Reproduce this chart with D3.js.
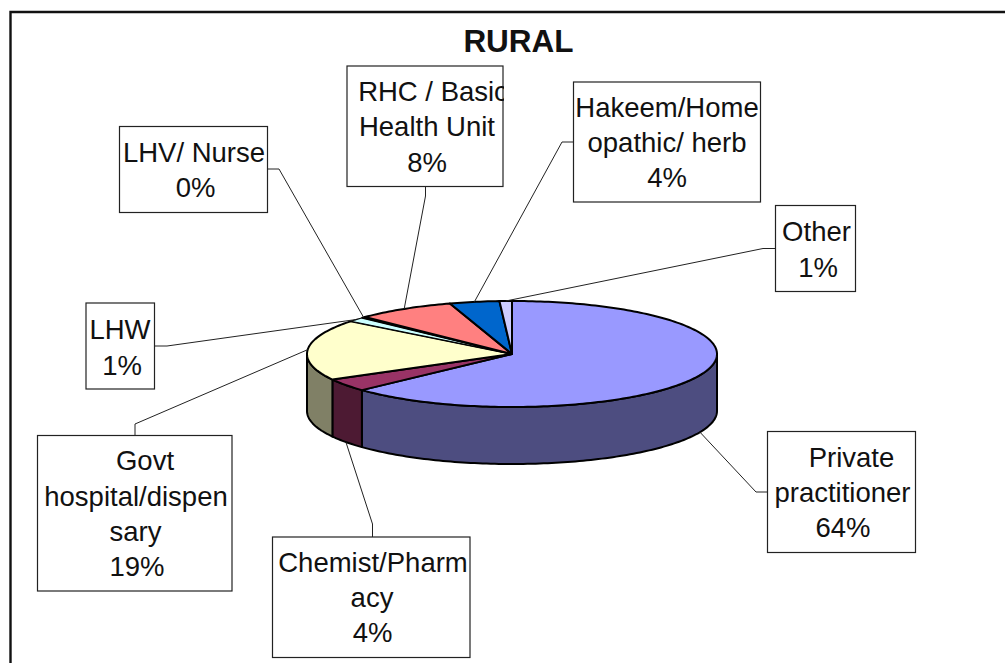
<!DOCTYPE html>
<html>
<head>
<meta charset="utf-8">
<style>
html,body{margin:0;padding:0;background:#fff;overflow:hidden}
svg{display:block}
text{font-family:"Liberation Sans",Arial,sans-serif;fill:#111}
</style>
<script src="https://cdn.jsdelivr.net/npm/d3@7/dist/d3.min.js"></script>
</head>
<body>
<svg id="c" width="1005" height="663"></svg>
<script>
// ---- data ----
const chartTitle = "RURAL";
const categories = ["Private practitioner","Chemist/Pharmacy","Govt hospital/dispensary","LHW","LHV/ Nurse","RHC / Basic Health Unit","Hakeem/Homeopathic/ herb","Other"];
const values = [64.4, 4, 19, 1.4, 0.3, 8, 4, 1];
const labelLines = [
  ["Private","practitioner"],
  ["Chemist/Pharm","acy"],
  ["Govt","hospital/dispen","sary"],
  ["LHW"],
  ["LHV/ Nurse"],
  ["RHC / Basic","Health Unit"],
  ["Hakeem/Home","opathic/ herb"],
  ["Other"]
];
// ---- styles ----
const topColors  = ["#9999FF","#993366","#FFFFCC","#CCFFFF","#660066","#FF8080","#0066CC","#CCCCFF"];
const sideColors = ["#4D4D80","#4D1A33","#808066","#668080","#330033","#804040","#003366","#666680"];
// ---- layout of the callouts ----
const boxes = [
  {x:767.5,y:431.5,w:148,h:121, base:[466.5,501.5,536.5], cx:[851.5,842.5,843],  elbow:[[768,492],[756,492]]},
  {x:272.5,y:537, w:197.5,h:120.5, base:[571.5,606.5,642], cx:[373,372,372.5],   elbow:[[372.5,537],[372.5,524]]},
  {x:37.5,y:435.5,w:194.5,h:155.5, base:[470,505.5,541,575.5], cx:[145,136,135.5,137], elbow:[[135,436],[135,424]]},
  {x:86,y:303,w:68.5,h:86, base:[339,374.5], cx:[120,122],                        elbow:[[155,346],[167,346]]},
  {x:119.5,y:126.5,w:148,h:86, base:[161.5,196.5], cx:[194,195.5],                elbow:[[267,169],[279,169]]},
  {x:347,y:66,w:156,h:120.5, base:[100.5,136,171.5], cx:[433,427,427],            elbow:[[425.5,186],[425.5,196]]},
  {x:573.5,y:82,w:187,h:120, base:[116.5,152,187], cx:[667,667,667],              elbow:[[573,142],[562,142]]},
  {x:775.5,y:205.5,w:80,h:86, base:[241,276.5], cx:[816.5,818],                   elbow:[[775,248.5],[763,248.5]]}
];

const svg = d3.select("#c");
const cx = 512, cy = 354, rx = 205, ry = 53, depth = 57;
const xS = d3.scaleLinear().domain([-1,1]).range([cx-rx,cx+rx]);
const yS = d3.scaleLinear().domain([-1,1]).range([cy-ry,cy+ry]);
const ptx = a => xS(Math.sin(a));
const pty = a => yS(-Math.cos(a));

const arcs = d3.pie().sort(null).value(d=>d)(values);
const PI = Math.PI;

function arcPts(a0,a1,dy){
  const n = Math.max(2,Math.ceil((a1-a0)/0.02));
  return d3.range(n+1).map(i=>{
    const a = a0+(a1-a0)*i/n;
    return [ptx(a),pty(a)+dy];
  });
}
const line = d3.line();

// frame: only top and left edges fall inside the picture
svg.append("path").attr("d",line([[10.5,663],[10.5,12],[1005,12]]))
  .attr("fill","none").attr("stroke","#111").attr("stroke-width",2.4);

// title
svg.append("text").attr("x",518.5).attr("y",52).attr("text-anchor","middle")
  .attr("font-size",31.5).attr("font-weight","bold").text(chartTitle);

// side walls of the front half
const wallG = svg.append("g");
arcs.forEach((d,i)=>{
  const a0 = Math.max(d.startAngle,PI/2), a1 = Math.min(d.endAngle,3*PI/2);
  if(a1<=a0) return;
  const pts = arcPts(a0,a1,0).concat(arcPts(a0,a1,depth).reverse());
  wallG.append("path").attr("d",line(pts)+"Z")
    .attr("fill",sideColors[i]).attr("stroke","#000").attr("stroke-width",2).attr("stroke-linejoin","round");
});

// top faces
const topG = svg.append("g");
arcs.forEach((d,i)=>{
  const pts = [[cx,cy]].concat(arcPts(d.startAngle,d.endAngle,0));
  topG.append("path").attr("d",line(pts)+"Z")
    .attr("fill",topColors[i]).attr("stroke","#000").attr("stroke-width",i===3?1.2:2).attr("stroke-linejoin","round");
});

// callouts
const defs = svg.append("defs");
const pctText = v => Math.round(v)+"%";
const calloutG = svg.append("g");
arcs.forEach((d,i)=>{
  const b = boxes[i];
  const mid = (d.startAngle+d.endAngle)/2;
  const front = mid>PI/2 && mid<3*PI/2;
  const anchor = [ptx(mid), pty(mid)+(front?depth:0)];
  calloutG.append("path").attr("d",line([b.elbow[0],b.elbow[1],anchor]))
    .attr("fill","none").attr("stroke","#222").attr("stroke-width",1);
  calloutG.append("rect").attr("x",b.x).attr("y",b.y).attr("width",b.w).attr("height",b.h)
    .attr("fill","#fff").attr("stroke","#222").attr("stroke-width",1.2);
  const id = "clip"+i;
  defs.append("clipPath").attr("id",id).append("rect")
    .attr("x",b.x).attr("y",b.y).attr("width",b.w+1).attr("height",b.h);
  const lines = labelLines[i].concat([pctText(values[i])]);
  const tg = calloutG.append("g").attr("clip-path","url(#"+id+")");
  lines.forEach((t,j)=>{
    tg.append("text").attr("x",b.cx[j]).attr("y",b.base[j])
      .attr("text-anchor","middle").attr("font-size",27.5).text(t);
  });
});
</script>
</body>
</html>
